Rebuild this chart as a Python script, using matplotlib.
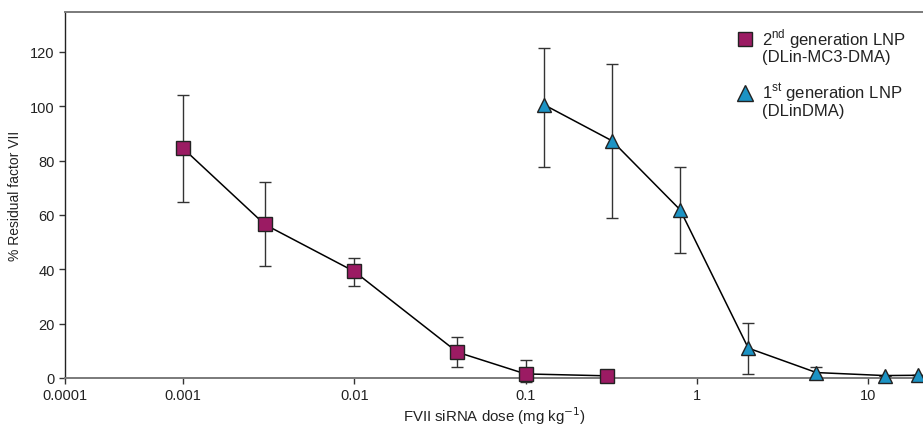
import matplotlib
matplotlib.use("Agg")
import matplotlib.pyplot as plt
import numpy as np

plt.rcParams['font.family'] = ['Liberation Sans', 'DejaVu Sans']

# 2nd generation LNP (DLin-MC3-DMA)
gen2_dose = [0.001, 0.003, 0.01, 0.04, 0.1, 0.3]
gen2_val = [84.5, 56.5, 39.2, 9.5, 1.5, 0.8]
gen2_err_hi = [104.0, 72.0, 44.0, 15.0, 6.5, 0.8]
gen2_err_lo = [64.8, 41.4, 34.0, 4.0, -1.5, 0.8]

# 1st generation LNP (DLinDMA)
gen1_dose = [0.128, 0.32, 0.8, 2.0, 5.0, 12.5, 19.5]
gen1_val = [100.6, 87.3, 61.9, 11.0, 2.0, 0.9, 1.0]
gen1_err_hi = [121.5, 115.6, 77.5, 20.2, 4.2, 0.9, 1.0]
gen1_err_lo = [77.5, 58.8, 45.9, 1.5, 0.5, 0.9, 1.0]

xtick_vals = [0.001, 0.01, 0.1, 1, 10]
xtick_labels = ['0.0001', '0.001', '0.01', '0.1', '1', '10']
ytick_vals = [0, 20, 40, 60, 80, 100, 120]

sq_color = '#9b1b63'
tri_color = '#1c93c4'
spine_gray = '#7a7a7a'

fig = plt.figure(figsize=(9.23, 4.27), dpi=100)
ax = fig.add_axes([65/923, 48/427, (923-65)/923, 366/427])

# compressed first decade: left limit placed ~118 px left of 0.001 (decade = 171 px)
xleft = 10 ** (-3 - 118/171)
xright = 10 ** (1 + 55/171)
ax.set_xscale('log')
ax.set_xlim(xleft, xright)
ax.set_ylim(0, 134.7)

def draw(dose, val, hi, lo, marker, color, ms):
    dose = np.array(dose); val = np.array(val)
    yerr = np.vstack([val - np.array(lo), np.array(hi) - val])
    ax.errorbar(dose, val, yerr=yerr, fmt='none', ecolor='#333333',
                elinewidth=1.0, capsize=4, capthick=1.0, zorder=2, clip_on=False)
    ax.plot(dose, val, color='black', lw=1.1, zorder=3, clip_on=False)
    ax.plot(dose, val, linestyle='none', marker=marker, ms=ms, mfc=color,
            mec='#222222', mew=1.0, zorder=4, clip_on=False)

draw(gen2_dose, gen2_val, gen2_err_hi, gen2_err_lo, 's', sq_color, 10.5)
draw(gen1_dose, gen1_val, gen1_err_hi, gen1_err_lo, '^', tri_color, 10.5)

ax.set_xticks([xleft] + xtick_vals)
ax.set_xticklabels(xtick_labels)
ax.xaxis.set_minor_locator(matplotlib.ticker.NullLocator())
ax.set_yticks(ytick_vals)
ax.set_yticklabels([str(v) for v in ytick_vals])

for s in ['left', 'bottom', 'top']:
    ax.spines[s].set_color(spine_gray)
    ax.spines[s].set_linewidth(1.4)
ax.spines['left'].set_color('#222222')
ax.spines['left'].set_linewidth(1.0)
ax.spines['right'].set_visible(False)
ax.tick_params(axis='both', direction='out', length=4, width=1.0,
               color='#333333', labelsize=10.5, labelcolor='#222222')

ax.set_xlabel('FVII siRNA dose (mg kg$^{-1}$)', fontsize=10.8, color='#222222', labelpad=1)
ax.set_ylabel('% Residual factor VII', fontsize=10, color='#222222', labelpad=6)

# legend
fig.lines.append(plt.Line2D([745/923], [1 - 40/427], transform=fig.transFigure,
                            marker='s', ms=10.5, mfc=sq_color, mec='#222222', mew=1.0, ls='none'))
fig.lines.append(plt.Line2D([745/923], [1 - 94/427], transform=fig.transFigure,
                            marker='^', ms=11, mfc=tri_color, mec='#222222', mew=1.0, ls='none'))
leg_fs = 12.0
fig.text(762/923, 1 - 45/427, '2$^{\\mathregular{nd}}$ generation LNP',
         fontsize=leg_fs, va='baseline', ha='left', color='#222222')
fig.text(762/923, 1 - 62/427, '(DLin-MC3-DMA)',
         fontsize=leg_fs, va='baseline', ha='left', color='#222222')
fig.text(762/923, 1 - 99/427, '1$^{\\mathregular{st}}$ generation LNP',
         fontsize=leg_fs, va='baseline', ha='left', color='#222222')
fig.text(762/923, 1 - 116/427, '(DLinDMA)',
         fontsize=leg_fs, va='baseline', ha='left', color='#222222')

fig.savefig('out.png', dpi=100)
